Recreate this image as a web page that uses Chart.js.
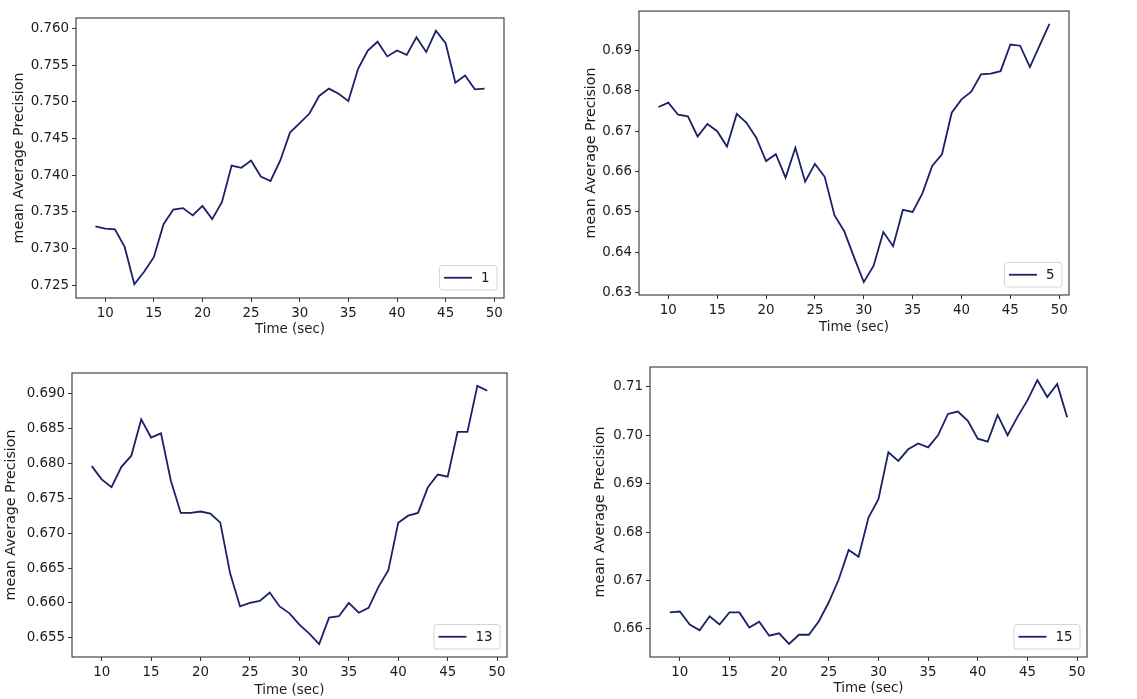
<!DOCTYPE html>
<html>
<head>
<meta charset="utf-8">
<script src="https://cdn.jsdelivr.net/npm/chart.js@4.4.1/dist/chart.umd.min.js"></script>
<style>
    html, body { margin: 0; padding: 0; background: #fff; }
    #wrap { position: relative; width: 1137px; height: 699px; overflow: hidden; }
    #wrap canvas { position: absolute; }
</style>
</head>
<body>
<div id="wrap">
    <canvas id="c1"></canvas>
    <canvas id="c5"></canvas>
    <canvas id="c13"></canvas>
    <canvas id="c15"></canvas>
</div>
<script>
// time axis (seconds)
const times = [9, 10, 11, 12, 13, 14, 15, 16, 17, 18, 19, 20, 21, 22, 23, 24, 25, 26, 27, 28,
    29, 30, 31, 32, 33, 34, 35, 36, 37, 38, 39, 40, 41, 42, 43, 44, 45, 46, 47, 48, 49];

// mAP per run
const map1 = [0.7330, 0.7327, 0.7326, 0.7302, 0.7251, 0.7268, 0.7288, 0.7333, 0.7353, 0.7355,
    0.7345, 0.7358, 0.7340, 0.7363, 0.7413, 0.7410, 0.7420, 0.7398, 0.7392, 0.7420,
    0.7458, 0.7471, 0.7484, 0.7508, 0.7518, 0.7511, 0.7501, 0.7545, 0.7570, 0.7582,
    0.7562, 0.7570, 0.7564, 0.7588, 0.7568, 0.7597, 0.7580, 0.7526, 0.7536, 0.7517, 0.7518];
const map5 = [0.6760, 0.6771, 0.6741, 0.6737, 0.6687, 0.6718, 0.6700, 0.6662, 0.6743, 0.6721,
    0.6684, 0.6626, 0.6643, 0.6585, 0.6659, 0.6575, 0.6619, 0.6587, 0.6492, 0.6452,
    0.6388, 0.6326, 0.6366, 0.6450, 0.6415, 0.6505, 0.6500, 0.6546, 0.6614, 0.6643,
    0.6746, 0.6779, 0.6798, 0.6841, 0.6843, 0.6849, 0.6915, 0.6912, 0.6859, 0.6913, 0.6966];
const map13 = [0.6796, 0.6777, 0.6766, 0.6795, 0.6811, 0.6863, 0.6837, 0.6843, 0.6775, 0.6729,
    0.6729, 0.6731, 0.6728, 0.6715, 0.6642, 0.6595, 0.6600, 0.6603, 0.6615, 0.6595,
    0.6585, 0.6569, 0.6556, 0.6541, 0.6579, 0.6581, 0.6600, 0.6586, 0.6593, 0.6623,
    0.6647, 0.6715, 0.6725, 0.6729, 0.6766, 0.6784, 0.6781, 0.6845, 0.6845, 0.6911, 0.6904];
const map15 = [0.6634, 0.6636, 0.6609, 0.6597, 0.6626, 0.6609, 0.6634, 0.6634, 0.6603, 0.6615,
    0.6586, 0.6591, 0.6569, 0.6588, 0.6588, 0.6616, 0.6655, 0.6702, 0.6763, 0.6749,
    0.6830, 0.6868, 0.6965, 0.6947, 0.6971, 0.6983, 0.6975, 0.7000, 0.7044, 0.7049,
    0.7030, 0.6993, 0.6987, 0.7042, 0.7000, 0.7038, 0.7072, 0.7114, 0.7079, 0.7106, 0.7037];

// tick labels
const xTicks = [10, 15, 20, 25, 30, 35, 40, 45, 50];
const yTicks1 = [0.725, 0.730, 0.735, 0.740, 0.745, 0.750, 0.755, 0.760];
const yTicks5 = [0.63, 0.64, 0.65, 0.66, 0.67, 0.68, 0.69];
const yTicks13 = [0.655, 0.660, 0.665, 0.670, 0.675, 0.680, 0.685, 0.690];
const yTicks15 = [0.66, 0.67, 0.68, 0.69, 0.70, 0.71];

const LINE = '#1a2168';
const AXIS = '#333333';
const TEXT = '#1c1c1c';
const FAMILY = "'DejaVu Sans', sans-serif";
const FONT = { family: FAMILY, size: 13.4 };
const YTITLE_FONT = { family: FAMILY, size: 14.2 };

// full box around the plotting area
const framePlugin = {
    id: 'frame',
    afterDraw(chart) {
        const a = chart.chartArea, ctx = chart.ctx;
        ctx.save();
        ctx.strokeStyle = AXIS;
        ctx.lineWidth = 1.1;
        ctx.strokeRect(a.left, a.top, a.right - a.left, a.bottom - a.top);
        ctx.restore();
    }
};

// legend box in the lower right corner
const cornerLegend = {
    id: 'cornerLegend',
    afterDraw(chart) {
        const ds = chart.data.datasets[0];
        const a = chart.chartArea, ctx = chart.ctx;
        ctx.save();
        ctx.font = `${FONT.size}px ${FONT.family}`;
        const tw = ctx.measureText(ds.label).width;
        const w = 4.5 + 28 + 9 + tw + 7.5, h = 24.5;
        const x = a.right - 7 - w, y = a.bottom - 8 - h;
        ctx.beginPath();
        ctx.roundRect(x, y, w, h, 3);
        ctx.fillStyle = 'rgba(255,255,255,0.8)';
        ctx.fill();
        ctx.strokeStyle = '#d4d4d4';
        ctx.lineWidth = 1;
        ctx.stroke();
        ctx.beginPath();
        ctx.moveTo(x + 4.5, y + h / 2);
        ctx.lineTo(x + 32.5, y + h / 2);
        ctx.strokeStyle = ds.borderColor;
        ctx.lineWidth = ds.borderWidth;
        ctx.stroke();
        ctx.fillStyle = TEXT;
        ctx.textBaseline = 'middle';
        ctx.fillText(ds.label, x + 41.5, y + h / 2 + 1);
        ctx.restore();
    }
};

function makePlot(id, label, values, yTicks, yMin, yMax, digits, box, area, yTitleX, xTitleY) {
    const cv = document.getElementById(id);
    cv.style.left = box[0] + 'px';
    cv.style.top = box[1] + 'px';
    cv.style.width = box[2] + 'px';
    cv.style.height = box[3] + 'px';
    cv.width = box[2];
    cv.height = box[3];

    const yOff = YTITLE_FONT.size * 1.2 / 2;
    const xOff = FONT.size * 1.2 / 2;
    const padLeft = Math.round(yTitleX - yOff - box[0]);
    const yWidth = area.l - box[0] - padLeft;
    const padTop = area.t - box[1];
    const padRight = box[0] + box[2] - area.r;
    const xBottom = xTitleY + xOff;
    const xHeight = xBottom - area.b;
    const padBottom = box[1] + box[3] - xBottom;

    const tickGrid = {
        drawOnChartArea: false,
        drawTicks: true,
        tickLength: 4,
        tickColor: AXIS,
        tickWidth: 1
    };

    new Chart(cv, {
        type: 'line',
        data: {
            datasets: [{
                label: label,
                data: times.map((t, i) => ({ x: t, y: values[i] })),
                borderColor: LINE,
                borderWidth: 1.8,
                pointRadius: 0,
                tension: 0,
                fill: false
            }]
        },
        options: {
            responsive: false,
            animation: false,
            events: [],
            layout: { padding: { left: padLeft, top: padTop, right: padRight, bottom: padBottom } },
            plugins: { legend: { display: false }, tooltip: { enabled: false } },
            scales: {
                x: {
                    type: 'linear',
                    min: 7,
                    max: 51,
                    grid: tickGrid,
                    border: { display: false },
                    afterBuildTicks: s => { s.ticks = xTicks.map(v => ({ value: v })); },
                    afterFit: s => { s.height = xHeight; },
                    ticks: { font: FONT, color: TEXT, padding: 3, maxRotation: 0, callback: v => String(v) },
                    title: { display: true, text: 'Time (sec)', font: FONT, color: TEXT, padding: 0 }
                },
                y: {
                    min: yMin,
                    max: yMax,
                    grid: tickGrid,
                    border: { display: false },
                    afterBuildTicks: s => { s.ticks = yTicks.map(v => ({ value: v })); },
                    afterFit: s => { s.width = yWidth; },
                    ticks: { font: FONT, color: TEXT, padding: 3, callback: v => Number(v).toFixed(digits) },
                    title: { display: true, text: 'mean Average Precision', font: YTITLE_FONT, color: TEXT, padding: 0 }
                }
            }
        },
        plugins: [framePlugin, cornerLegend]
    });
}

makePlot('c1', '1', map1, yTicks1, 0.72323, 0.76144, 3,
    [0, 0, 568, 345], { l: 76, t: 18, r: 504, b: 298 }, 20, 330);
makePlot('c5', '5', map5, yTicks5, 0.6294, 0.6998, 2,
    [568, 0, 569, 345], { l: 639, t: 11, r: 1069, b: 295 }, 592, 328);
makePlot('c13', '13', map13, yTicks13, 0.65225, 0.69295, 3,
    [0, 345, 568, 354], { l: 72, t: 373, r: 507, b: 657 }, 12, 691);
makePlot('c15', '15', map15, yTicks15, 0.6542, 0.7141, 2,
    [568, 345, 569, 354], { l: 650, t: 367, r: 1087, b: 657 }, 601, 689);
</script>
</body>
</html>
